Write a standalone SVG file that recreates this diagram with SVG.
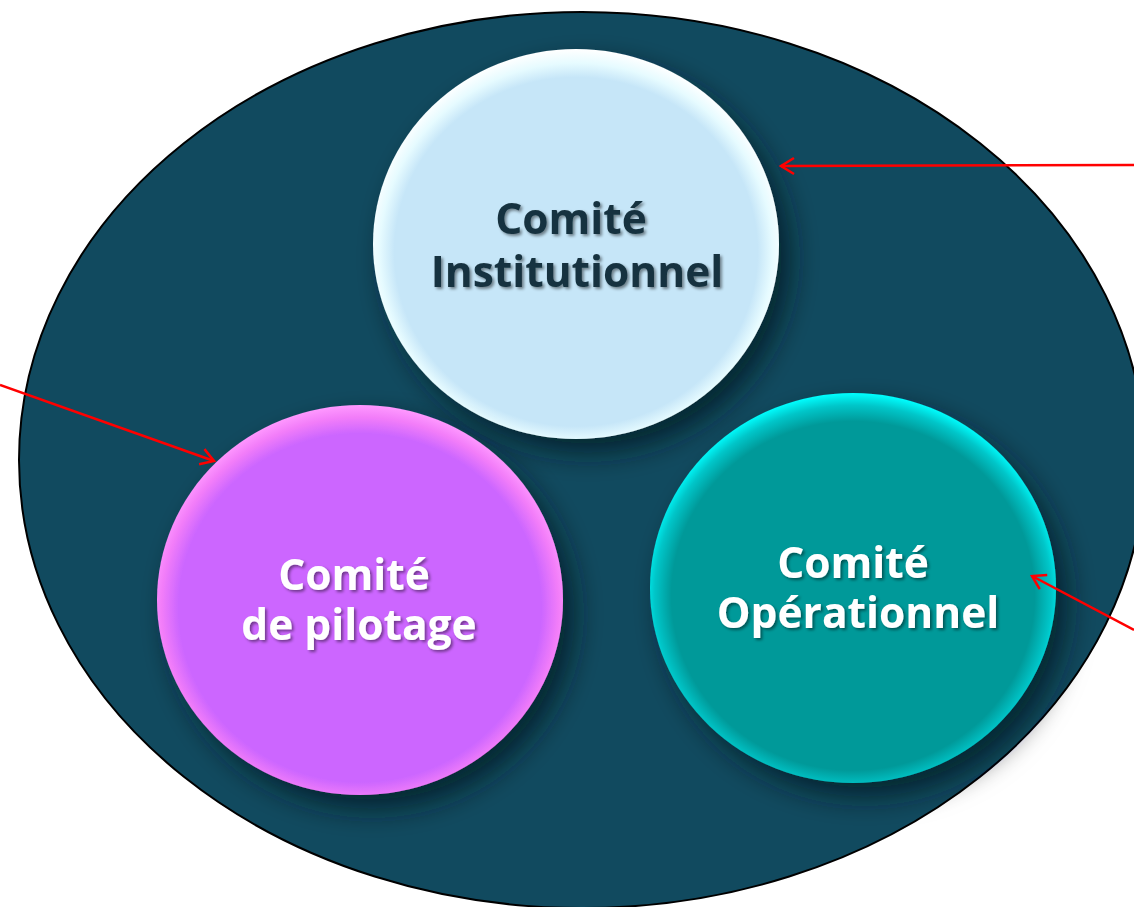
<svg xmlns="http://www.w3.org/2000/svg" width="1134" height="907" viewBox="0 0 1134 907">
<style>
.lbl{font-family:"Open Sans","Noto Sans","Liberation Sans",sans-serif;font-weight:bold;font-size:42.5px;text-anchor:middle}
.dark{fill:#17333f}
.light{fill:#ffffff}
.conn{stroke:#ff0000;stroke-width:2.5;fill:none}
</style>
<defs>
<filter id="shadow" x="-30%" y="-30%" width="170%" height="170%">
<feDropShadow dx="12" dy="14" stdDeviation="14" flood-color="#061a22" flood-opacity="0.75"/>
</filter>
<filter id="tshadow" x="-10%" y="-20%" width="120%" height="150%">
<feDropShadow dx="2" dy="2" stdDeviation="1.5" flood-color="#000" flood-opacity="0.45"/>
</filter>
<radialGradient id="gBlue" cx="0.5" cy="0.52" r="0.52">
<stop offset="0.86" stop-color="#c6e6f8"/>
<stop offset="0.93" stop-color="#e6fbff"/>
<stop offset="1" stop-color="#ffffff"/>
</radialGradient>
<radialGradient id="gPink" cx="0.5" cy="0.52" r="0.52">
<stop offset="0.86" stop-color="#cc66ff"/>
<stop offset="0.94" stop-color="#f27df9"/>
<stop offset="1" stop-color="#ff99ff"/>
</radialGradient>
<radialGradient id="gTeal" cx="0.5" cy="0.52" r="0.52">
<stop offset="0.86" stop-color="#009999"/>
<stop offset="0.94" stop-color="#00c6c9"/>
<stop offset="1" stop-color="#00ffff"/>
</radialGradient>
<marker id="arr" markerWidth="20" markerHeight="20" refX="15" refY="10" orient="auto" markerUnits="userSpaceOnUse">
<path d="M2,2 L15,10 L2,18" fill="none" stroke="#ff0000" stroke-width="2.5"/>
</marker>
</defs>
<g id="background">
<ellipse cx="582" cy="460" rx="563" ry="448" fill="#114a5f" stroke="#000" stroke-width="2"/>
</g>
<g id="node-institutionnel">
<ellipse cx="576" cy="244" rx="203" ry="195" fill="url(#gBlue)" filter="url(#shadow)"/>
<g filter="url(#tshadow)">
<text class="lbl dark" x="571" y="234">Comité</text>
<text class="lbl dark" x="577" y="287">Institutionnel</text>
</g>
</g>
<g id="node-pilotage">
<ellipse cx="360" cy="600" rx="203" ry="195" fill="url(#gPink)" filter="url(#shadow)"/>
<g filter="url(#tshadow)">
<text class="lbl light" x="354" y="590">Comité</text>
<text class="lbl light" x="359" y="640">de pilotage</text>
</g>
</g>
<g id="node-operationnel">
<ellipse cx="853" cy="588" rx="203" ry="195" fill="url(#gTeal)" filter="url(#shadow)"/>
<g filter="url(#tshadow)">
<text class="lbl light" x="853" y="578">Comité</text>
<text class="lbl light" x="858" y="628">Opérationnel</text>
</g>
</g>
<g id="connectors">
<line class="conn" x1="1134" y1="165" x2="781" y2="166" marker-end="url(#arr)"/>
<line class="conn" x1="0" y1="385" x2="214" y2="461" marker-end="url(#arr)"/>
<line class="conn" x1="1134" y1="630" x2="1032" y2="576" marker-end="url(#arr)"/>
</g>
</svg>
